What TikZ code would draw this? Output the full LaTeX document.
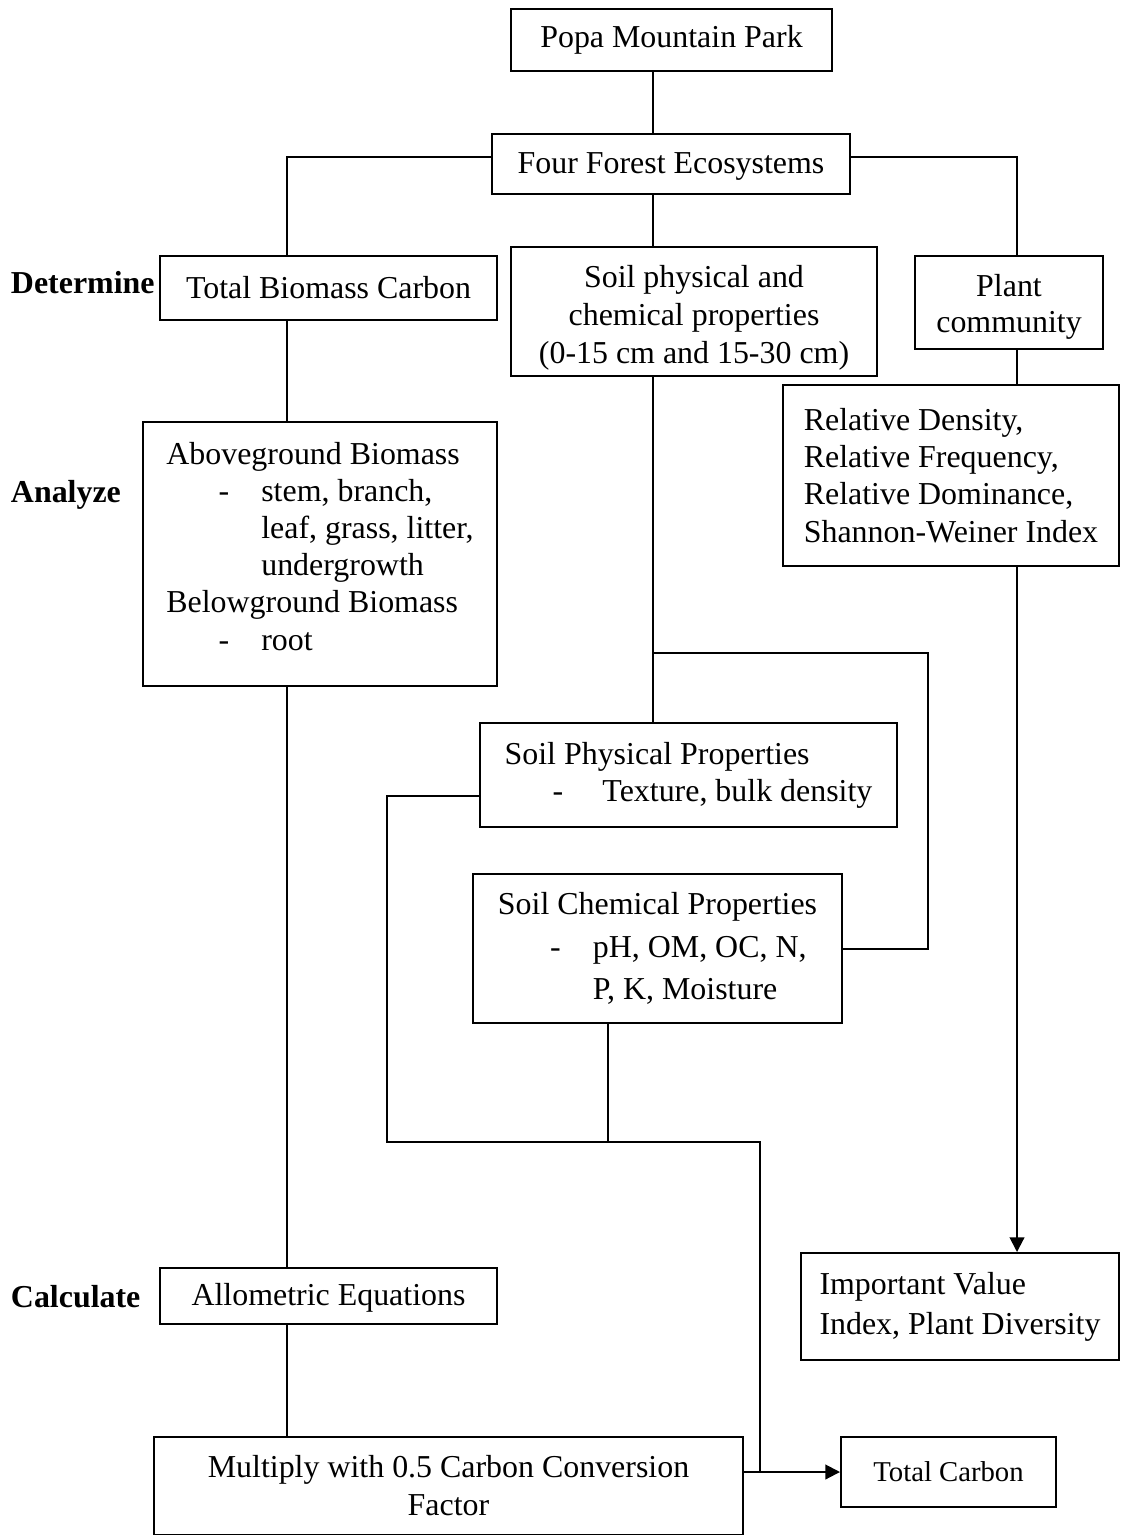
\documentclass[tikz,border=0pt]{standalone}
\usepackage{fontspec}
\setmainfont{Liberation Serif}
\usetikzlibrary{positioning}
\usetikzlibrary{calc}
\usetikzlibrary{arrows.meta}

\def\pxu{0.376pt}
\newcommand{\dashitem}{\hspace*{19.6pt}\makebox[16.1pt][l]{-}}
\newcommand{\inditem}{\hspace*{35.7pt}}

\begin{document}
\begin{tikzpicture}[x=0.376pt, y=-0.376pt, line width=0.75pt,
  font=\fontsize{12}{14}\selectfont,
  box/.style={draw, inner sep=0pt, align=center},
  listbox/.style={draw, inner sep=0pt, align=left},
  tag/.style={anchor=west, inner sep=0pt, font=\fontsize{12}{14}\selectfont\bfseries},
  arr/.style={-{Triangle[length=5.5pt,width=5.5pt]}}]

\useasboundingbox (0,0) rectangle (1121,1535);

\coordinate (spine) at (653,0);
\coordinate (lspine) at (287,0);
\coordinate (rspine) at (1017,0);
\coordinate (rloop) at (928,0);
\coordinate (lloop) at (387,796);
\coordinate (j1) at (653,653);
\coordinate (j2) at (608,1142);
\coordinate (j3) at (760,1142);

\node[box, minimum width={321*\pxu}, minimum height={62*\pxu}] (popa) at (671.5,40) {Popa Mountain Park};
\node[box, minimum width={358*\pxu}, minimum height={60*\pxu}] (four) at (671,164) {\rule{0pt}{10pt}Four Forest Ecosystems};
\node[box, minimum width={337*\pxu}, minimum height={64*\pxu}] (tbc) at (328.5,288) {Total Biomass Carbon};
\node[box, minimum width={366*\pxu}, minimum height={129*\pxu}, font=\fontsize{12}{14.3}\selectfont] (soil) at (694,311.5)
  {\rule{0pt}{12.8pt}Soil physical and\\chemical properties\\(0-15 cm and 15-30 cm)};
\node[box, minimum width={188*\pxu}, minimum height={93*\pxu}, font=\fontsize{12}{13.5}\selectfont] (plant) at (1009,302.5) {\rule{0pt}{11.8pt}Plant\\community};
\node[listbox, minimum width={336*\pxu}, minimum height={181*\pxu}] (rel) at (951,475.5)
  {Relative Density,\\Relative Frequency,\\Relative Dominance,\\Shannon-Weiner Index};
\node[listbox, minimum width={354*\pxu}, minimum height={264*\pxu}] (above) at (320,554)
  {Aboveground Biomass\\
   \dashitem stem, branch,\\
   \inditem leaf, grass, litter,\\
   \inditem undergrowth\\
   Belowground Biomass\\
   \dashitem root\rule[-6pt]{0pt}{6pt}};
\node[listbox, minimum width={417*\pxu}, minimum height={104*\pxu}] (phys) at (688.5,775)
  {Soil Physical Properties\\
   \hspace*{18pt}\makebox[18.8pt][l]{-}Texture, bulk density};
\node[listbox, minimum width={369*\pxu}, minimum height={149*\pxu}, font=\fontsize{12}{16}\selectfont] (chem) at (657.5,948.5)
  {Soil Chemical Properties\\
   \dashitem pH, OM, OC, N,\\
   \inditem P, K, Moisture};
\node[box, minimum width={337*\pxu}, minimum height={56*\pxu}] (allo) at (328.5,1296) {\rule{0pt}{10pt}Allometric Equations};
\node[listbox, minimum width={318*\pxu}, minimum height={107*\pxu}, font=\fontsize{12}{15}\selectfont] (imp) at (960,1306.5)
  {Important Value\\Index, Plant Diversity};
\node[box, minimum width={589*\pxu}, minimum height={98*\pxu}, font=\fontsize{12}{14.3}\selectfont] (mult) at (448.5,1486)
  {Multiply with 0.5 Carbon Conversion\\Factor};
\node[box, minimum width={215*\pxu}, minimum height={70*\pxu}, font=\fontsize{10.8}{13}\selectfont] (total) at (948.5,1472) {Total Carbon};

\node[tag] (determine) at (10,283) {Determine};
\node[tag] (analyze) at (10,495) {Analyze};
\node[tag] (calculate) at (10,1297) {Calculate};

% top of the tree
\draw (popa.south -| spine) -- (four.north -| spine);
\draw ([yshift=2.6pt]four.west) -| (tbc.north -| lspine);
\draw ([yshift=2.6pt]four.east) -| (plant.north -| rspine);
\draw (four.south -| spine) -- (soil.north -| spine);

% biomass column
\draw (tbc.south -| lspine) -- (above.north -| lspine);
\draw (above.south -| lspine) -- (allo.north -| lspine);
\draw (allo.south -| lspine) -- (mult.north -| lspine);

% plant column
\draw (plant.south -| rspine) -- (rel.north -| rspine);
\draw[arr] (rel.south -| rspine) -- (imp.north -| rspine);

% soil column
\draw (soil.south -| spine) -- (phys.north -| spine);
\draw (j1) -| (chem.east -| rloop) -- (chem.east);
\draw (phys.west |- lloop) -- (lloop) |- (j3) -- (j3 |- total.west);
\draw (chem.south -| j2) -- (j2);
\draw[arr] (mult.east |- total.west) -- (total.west);
\end{tikzpicture}
\end{document}
